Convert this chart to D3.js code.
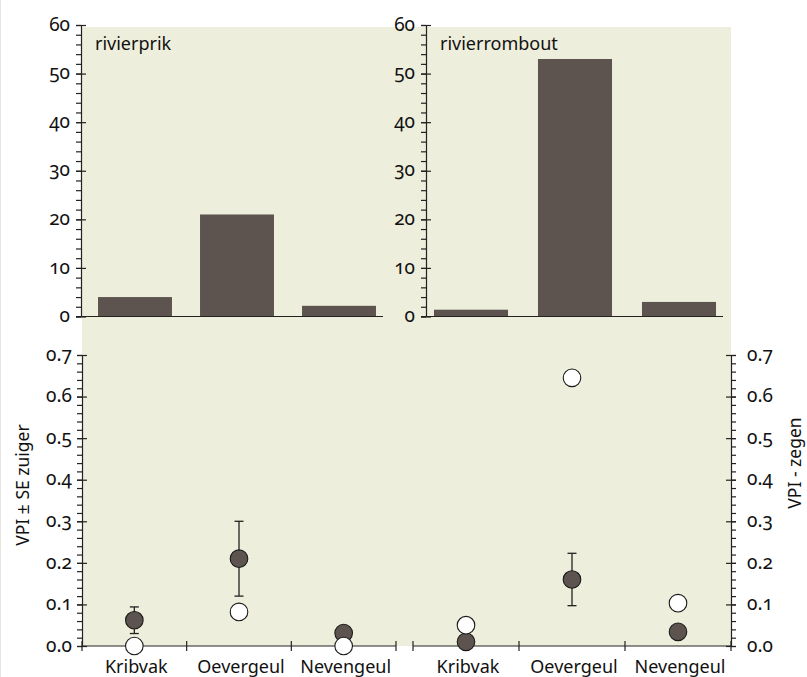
<!DOCTYPE html>
<html>
<head>
<meta charset="utf-8">
<script src="https://cdn.jsdelivr.net/npm/d3@7.9.0/dist/d3.min.js"></script>
<style>
  body { margin: 0; background: #fff; }
  .axis path, .axis line { stroke: #222; stroke-width: 1.2; }
</style>
</head>
<body>
<svg id="chart" width="807" height="677"></svg>
<script>
// categories + values
const habitats = ["Kribvak", "Oevergeul", "Nevengeul"];
const species = ["rivierprik", "rivierrombout"];

// top: counts per habitat
const countPrik = [4, 21, 2.2];
const countRombout = [1.4, 53, 3];

// bottom: VPI zuiger (mean, se) and VPI zegen
const zuigerPrik = [0.062, 0.21, 0.031];
const sePrik = [0.032, 0.09, 0];
const zegenPrik = [0, 0.082, 0];
const zuigerRombout = [0.01, 0.16, 0.034];
const seRombout = [0, 0.063, 0];
const zegenRombout = [0.05, 0.645, 0.103];

const countTicks = [0, 10, 20, 30, 40, 50, 60];
const vpiTicks = [0, 0.1, 0.2, 0.3, 0.4, 0.5, 0.6, 0.7];

const barColor = "#5e544f";
const bg = "#edeedb";

const svg = d3.select("#chart");

// text helper, old style figures like the original
function styleText(sel, size) {
  return sel.attr("font-family", "Noto Sans")
    .attr("font-size", size)
    .attr("fill", "#111")
    .style("font-variant-numeric", "oldstyle-nums");
}

// background
svg.append("rect")
  .attr("x", 82).attr("y", 27)
  .attr("width", 649).attr("height", 619)
  .attr("fill", bg);

// faint edge line on the left
svg.append("line")
  .attr("x1", 0.5).attr("x2", 0.5).attr("y1", 0).attr("y2", 677)
  .attr("stroke", "#e6e6e0");

// y axis: crossing major ticks, outside minor ticks, labels as plain text
function yAxis(x0, scale, majors, minors, side, fmt, pad) {
  const g = svg.append("g").attr("transform", `translate(${x0},0)`);
  const outer = side === "left" ? d3.axisLeft : d3.axisRight;
  const inner = side === "left" ? d3.axisRight : d3.axisLeft;
  g.append("g").attr("class", "axis")
    .call(outer(scale).tickValues(minors).tickSize(5).tickSizeOuter(0).tickFormat(""))
    .call(a => a.select(".domain").remove());
  g.append("g").attr("class", "axis")
    .call(inner(scale).tickValues(majors).tickSize(5).tickFormat(""))
    .call(a => a.select(".domain").remove());
  g.append("g").attr("class", "axis")
    .call(outer(scale).tickValues(majors).tickSize(5).tickSizeOuter(0).tickFormat(""));

  const dir = side === "left" ? -1 : 1;
  const size = 19;
  styleText(svg.append("g").selectAll("text")
    .data(majors)
    .join("text"), size)
    .attr("x", x0 + dir * (5 + pad))
    .attr("y", d => scale(d) + size * 0.3)
    .attr("text-anchor", side === "left" ? "end" : "start")
    .text(fmt);
}

// ---- top panels: bar charts ----
const yCount = d3.scaleLinear().domain([0, 60]).range([316.5, 25]);
const countMinors = d3.range(0, 61, 2);

const topPanels = [
  { name: species[0], values: countPrik, axisX: 81, lineEnd: 383, range: [84, 390], pad: 0.275 },
  { name: species[1], values: countRombout, axisX: 426, lineEnd: 723, range: [419, 731], pad: 0.288 }
];

topPanels.forEach(p => {
  const x = d3.scaleBand().domain(habitats).range(p.range)
    .paddingInner(p.pad).paddingOuter(p.pad / 2);

  svg.append("g").selectAll("rect")
    .data(p.values)
    .join("rect")
    .attr("x", (d, i) => x(habitats[i]))
    .attr("width", x.bandwidth())
    .attr("y", d => yCount(d))
    .attr("height", d => yCount(0) - yCount(d))
    .attr("fill", barColor);

  // baseline
  svg.append("line")
    .attr("x1", p.axisX - 5).attr("x2", p.lineEnd)
    .attr("y1", yCount(0)).attr("y2", yCount(0))
    .attr("stroke", "#222").attr("stroke-width", 1.2);

  yAxis(p.axisX, yCount, countTicks, countMinors, "left", d3.format("d"), 6);

  styleText(svg.append("text"), 18)
    .attr("x", p.axisX + 14).attr("y", 50)
    .text(p.name);
});

// ---- bottom panels: VPI points ----
const yVpi = d3.scaleLinear().domain([0, 0.7]).range([646, 355]);
const vpiMinors = d3.range(0, 36).map(i => i * 0.02);

const bottomPanels = [
  { mean: zuigerPrik, se: sePrik, open: zegenPrik, range: [82, 396] },
  { mean: zuigerRombout, se: seRombout, open: zegenRombout, range: [413, 731] }
];

bottomPanels.forEach(p => {
  const x = d3.scaleBand().domain(habitats).range(p.range);
  const cx = i => x(habitats[i]) + x.bandwidth() / 2;

  // x axis line with boundary ticks
  const bounds = habitats.map(h => x(h)).concat([p.range[1]]);
  svg.append("line")
    .attr("x1", p.range[0]).attr("x2", p.range[1])
    .attr("y1", yVpi(0)).attr("y2", yVpi(0))
    .attr("stroke", "#222").attr("stroke-width", 1.2);
  svg.append("g").selectAll("line")
    .data(bounds)
    .join("line")
    .attr("x1", d => d).attr("x2", d => d)
    .attr("y1", yVpi(0) - 5).attr("y2", yVpi(0) + 5)
    .attr("stroke", "#222").attr("stroke-width", 1.2);

  styleText(svg.append("g").selectAll("text")
    .data(habitats)
    .join("text"), 18)
    .attr("x", (d, i) => cx(i) + 2)
    .attr("y", 673)
    .attr("text-anchor", "middle")
    .text(d => d);

  // error bars
  const eb = svg.append("g").attr("stroke", "#222").attr("stroke-width", 1.3);
  p.mean.forEach((m, i) => {
    if (!p.se[i]) return;
    const lo = yVpi(m - p.se[i]), hi = yVpi(m + p.se[i]);
    eb.append("line").attr("x1", cx(i)).attr("x2", cx(i)).attr("y1", lo).attr("y2", hi);
    eb.append("line").attr("x1", cx(i) - 4.5).attr("x2", cx(i) + 4.5).attr("y1", lo).attr("y2", lo);
    eb.append("line").attr("x1", cx(i) - 4.5).attr("x2", cx(i) + 4.5).attr("y1", hi).attr("y2", hi);
  });

  svg.append("g").selectAll("circle")
    .data(p.mean)
    .join("circle")
    .attr("cx", (d, i) => cx(i))
    .attr("cy", d => yVpi(d))
    .attr("r", 8.8)
    .attr("fill", barColor)
    .attr("stroke", "#1a1a1a").attr("stroke-width", 1.1);

  svg.append("g").selectAll("circle")
    .data(p.open)
    .join("circle")
    .attr("cx", (d, i) => cx(i))
    .attr("cy", d => yVpi(d))
    .attr("r", 8.8)
    .attr("fill", "#fff")
    .attr("stroke", "#1a1a1a").attr("stroke-width", 1.1);
});

yAxis(82, yVpi, vpiTicks, vpiMinors, "left", d3.format(".1f"), 5);
yAxis(731, yVpi, vpiTicks, vpiMinors, "right", d3.format(".1f"), 11);

// axis titles
styleText(svg.append("text"), 17.5)
  .attr("transform", "translate(29,485) rotate(-90)")
  .attr("text-anchor", "middle")
  .text("VPI ± SE zuiger");

styleText(svg.append("text"), 17.5)
  .attr("transform", "translate(801,463) rotate(-90)")
  .attr("text-anchor", "middle")
  .text("VPI - zegen");
</script>
</body>
</html>
